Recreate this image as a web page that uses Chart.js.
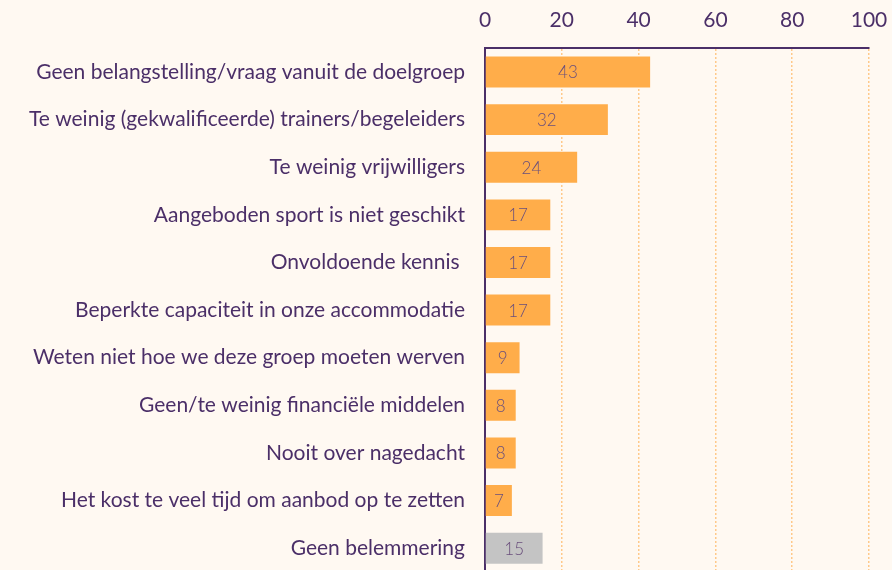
<!DOCTYPE html>
<html>
<head>
<meta charset="utf-8">
<script src="https://cdn.jsdelivr.net/npm/chart.js@4"></script>
<style>
  html, body { margin: 0; padding: 0; background: #fff9f2; overflow: hidden; }
  #wrap { width: 892px; height: 572px; position: relative; }
</style>
</head>
<body>
<div id="wrap"><canvas id="chart"></canvas></div>
<script>
// Data
const categories = [
    'Geen belangstelling/vraag vanuit de doelgroep',
    'Te weinig (gekwalificeerde) trainers/begeleiders',
    'Te weinig vrijwilligers',
    'Aangeboden sport is niet geschikt',
    'Onvoldoende kennis ',
    'Beperkte capaciteit in onze accommodatie',
    'Weten niet hoe we deze groep moeten werven',
    'Geen/te weinig financiële middelen',
    'Nooit over nagedacht',
    'Het kost te veel tijd om aanbod op te zetten',
    'Geen belemmering'
];
const values = [43, 32, 24, 17, 17, 17, 9, 8, 8, 7, 15];
const xTicks = [0, 20, 40, 60, 80, 100];

const purple = '#4b2f68';
const orange = '#ffad4a';
const grey = '#c4c4c4';
const barColors = categories.map((c, i) => i === categories.length - 1 ? grey : orange);

// Value labels in the middle of each bar
const valueLabels = {
    id: 'valueLabels',
    afterDatasetsDraw(chart) {
        const ctx = chart.ctx;
        const meta = chart.getDatasetMeta(0);
        ctx.save();
        ctx.font = '300 17px Lato';
        ctx.fillStyle = '#6a4f7c';
        ctx.textAlign = 'center';
        ctx.textBaseline = 'middle';
        meta.data.forEach((bar, i) => {
            const x = (bar.x + bar.base) / 2;
            ctx.fillText(values[i], x, bar.y + 1);
        });
        ctx.restore();
    }
};

const ctx = document.getElementById('chart').getContext('2d');
const chart = new Chart(ctx, {
    type: 'bar',
    data: {
        labels: categories,
        datasets: [{
            data: values,
            backgroundColor: barColors,
            borderWidth: 0,
            barPercentage: 0.65,
            categoryPercentage: 1
        }]
    },
    options: {
        indexAxis: 'y',
        responsive: true,
        maintainAspectRatio: false,
        animation: false,
        layout: { padding: { left: 0, right: 23, top: -7, bottom: 0 } },
        scales: {
            x: {
                position: 'top',
                min: 0,
                max: 100,
                afterBuildTicks: axis => { axis.ticks = xTicks.map(v => ({ value: v })); },
                afterFit: s => { s.paddingLeft = 0; s.paddingRight = 0; },
                border: { display: true, color: purple, width: 2, dash: [2, 2] },
                grid: {
                    drawTicks: false,
                    color: ctx => ctx.tick && ctx.tick.value === 0 ? 'rgba(0,0,0,0)' : '#ffc98a',
                    lineWidth: 1.5
                },
                ticks: {
                    color: purple,
                    padding: 15,
                    font: { family: 'Lato', size: 21 }
                }
            },
            y: {
                afterFit: s => { s.width = 485; s.paddingTop = 0; s.paddingBottom = 0; },
                border: { display: true, color: purple, width: 2 },
                grid: { display: false },
                ticks: {
                    color: purple,
                    padding: 12,
                    font: { family: 'Lato', size: 21 }
                }
            }
        },
        plugins: {
            legend: { display: false },
            tooltip: { enabled: false }
        }
    },
    plugins: [valueLabels]
});
</script>
</body>
</html>
